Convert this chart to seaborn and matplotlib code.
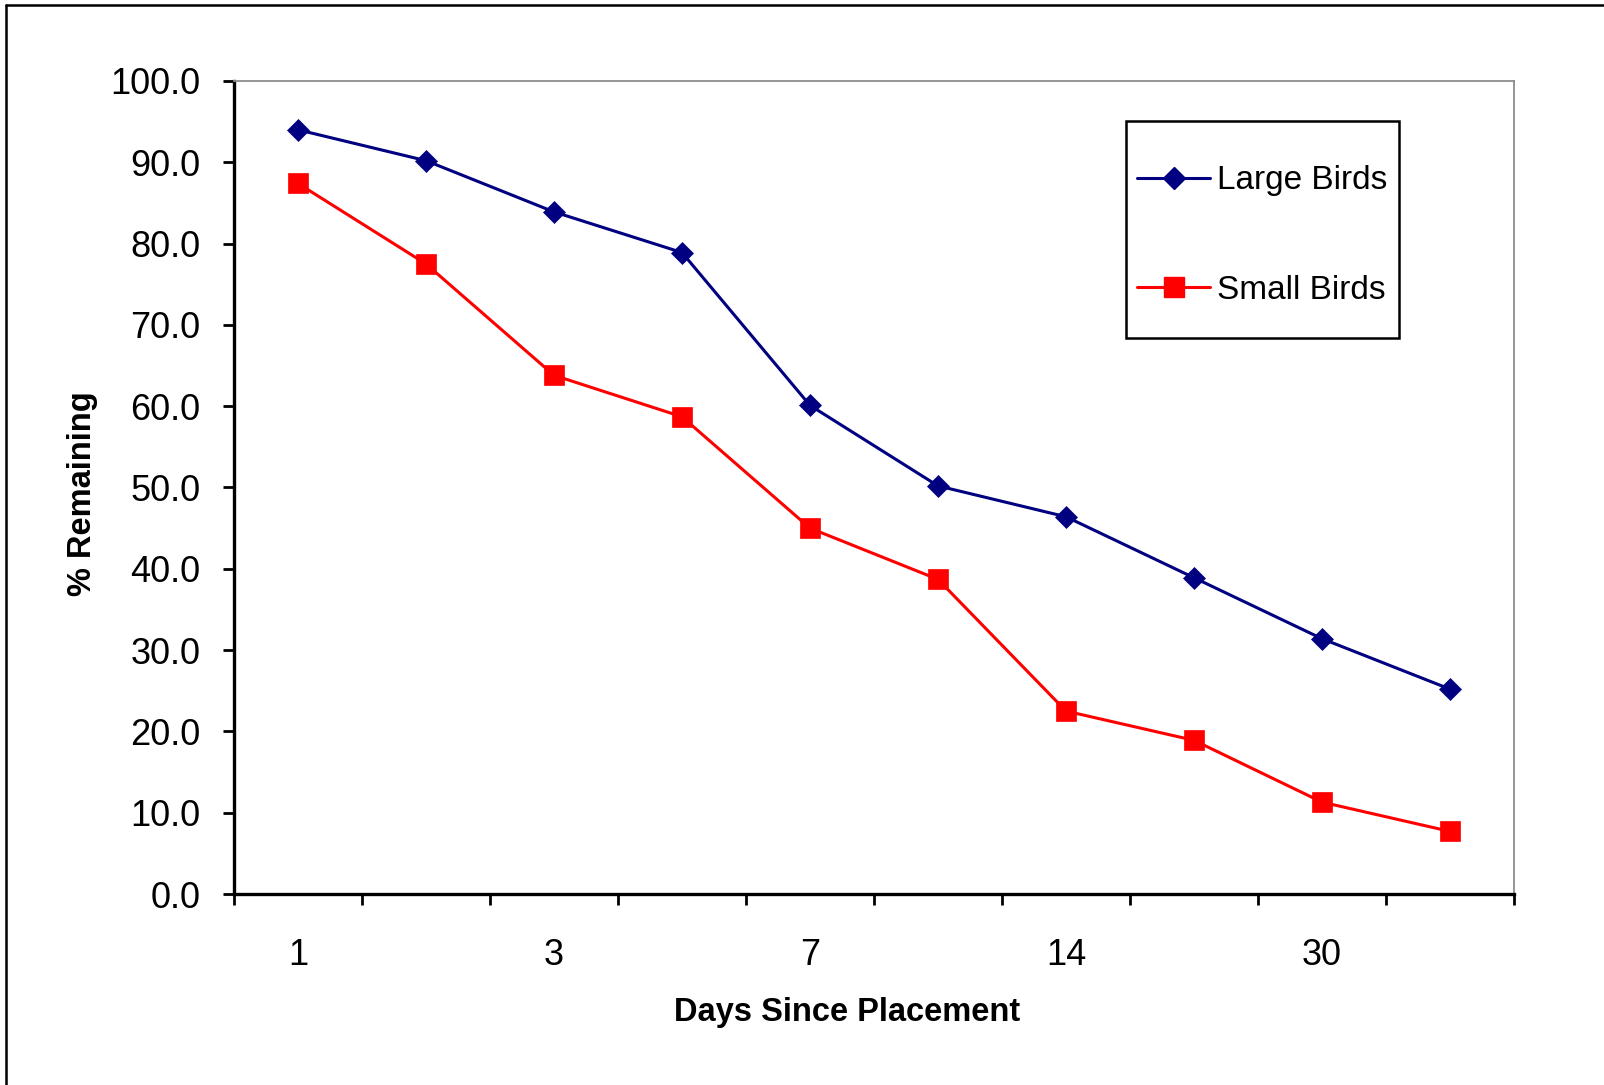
import matplotlib
matplotlib.use("Agg")
import matplotlib.pyplot as plt
from matplotlib.lines import Line2D
from matplotlib.patches import Rectangle
import numpy as np
import pandas as pd
import seaborn as sns

# Sampling days (only every other one is labelled on the axis)
day_labels = ["1", "", "3", "", "7", "", "14", "", "30", ""]

large_birds = [94.0, 90.2, 83.9, 78.9, 60.1, 50.2, 46.4, 38.9, 31.4, 25.2]
small_birds = [87.4, 77.5, 63.8, 58.7, 45.0, 38.7, 22.5, 18.9, 11.3, 7.7]

series_names = ["Large Birds", "Small Birds"]
series_colors = {"Large Birds": "#000080", "Small Birds": "#FF0000"}
series_markers = {"Large Birds": "D", "Small Birds": "s"}
series_msize = {"Large Birds": 11, "Small Birds": 14}

pos = np.arange(len(day_labels))
df = pd.DataFrame({
    "pos": np.concatenate([pos, pos]),
    "pct": large_birds + small_birds,
    "group": [series_names[0]] * len(pos) + [series_names[1]] * len(pos),
})

sns.set_style("white")
plt.rcParams["font.family"] = ["Liberation Sans", "DejaVu Sans"]
plt.rcParams["text.color"] = "black"
plt.rcParams["xtick.color"] = "black"
plt.rcParams["ytick.color"] = "black"

W, H = 1604, 1085
fig = plt.figure(figsize=(W / 100, H / 100), dpi=100)
ax = fig.add_axes([234 / W, 1 - 894 / H, (1514 - 234) / W, (894 - 81) / H])

handles = []
for name in series_names:
    sub = df[df["group"] == name]
    sns.lineplot(data=sub, x="pos", y="pct", ax=ax, color=series_colors[name],
                 marker=series_markers[name], markersize=series_msize[name],
                 markeredgecolor=series_colors[name], markeredgewidth=0.5,
                 linewidth=2.2, legend=False, clip_on=False)
    handles.append(Line2D([], [], color=series_colors[name], lw=2.2,
                          marker=series_markers[name], markersize=series_msize[name],
                          markeredgecolor=series_colors[name]))

ax.set_xlim(-0.5, len(day_labels) - 0.5)
ax.set_ylim(0, 100)
ax.set_yticks(np.arange(0, 101, 10))
ax.set_yticklabels([f"{v:.1f}" for v in np.arange(0, 101, 10)])

ax.set_xticks(np.arange(-0.5, len(day_labels), 1.0))
ax.set_xticklabels([])
ax.set_xticks(pos, minor=True)
ax.set_xticklabels(day_labels, minor=True)

ax.tick_params(axis="y", which="major", direction="out", length=8, width=2,
               color="black", labelcolor="black", labelsize=26, pad=16, left=True)
ax.tick_params(axis="x", which="major", direction="out", length=8, width=2,
               color="black", bottom=True)
ax.tick_params(axis="x", which="minor", length=0, labelsize=26, pad=32,
               labelcolor="black")

for side in ["left", "bottom"]:
    ax.spines[side].set_color("black")
    ax.spines[side].set_linewidth(2.4)
for side in ["top", "right"]:
    ax.spines[side].set_color("#8c8c8c")
    ax.spines[side].set_linewidth(1.3)

ax.set_xlabel("")
ax.set_ylabel("")
fig.text(847 / W, 1 - 1013 / H, "Days Since Placement", fontsize=23.5,
         fontweight="bold", ha="center", va="center", color="black")
fig.text(82 / W, 1 - 494 / H, "% Remaining", fontsize=23.5, fontweight="bold",
         ha="center", va="center", rotation=90, color="black")

# Legend entries plus a separate square box around them
leg = fig.legend(handles, series_names, loc="center left",
                 bbox_to_anchor=(1137 / W, 1 - 235.5 / H), frameon=False,
                 fontsize=24, handlelength=2.2, handletextpad=0.2,
                 labelspacing=2.35, borderpad=0, borderaxespad=0)
for t in leg.get_texts():
    t.set_color("black")
fig.add_artist(Rectangle((1126 / W, 1 - 338 / H), (1399 - 1126) / W, (338 - 121) / H,
                         transform=fig.transFigure, fill=False, edgecolor="black",
                         linewidth=1.8))

# Chart-area frame (left and top edges)
fig.add_artist(Line2D([6 / W, 6 / W], [0, 1 - 5 / H], transform=fig.transFigure,
                      color="black", linewidth=1.8))
fig.add_artist(Line2D([6 / W, 1], [1 - 5 / H, 1 - 5 / H], transform=fig.transFigure,
                      color="black", linewidth=1.8))

fig.savefig("out.png", dpi=100, facecolor="white")
